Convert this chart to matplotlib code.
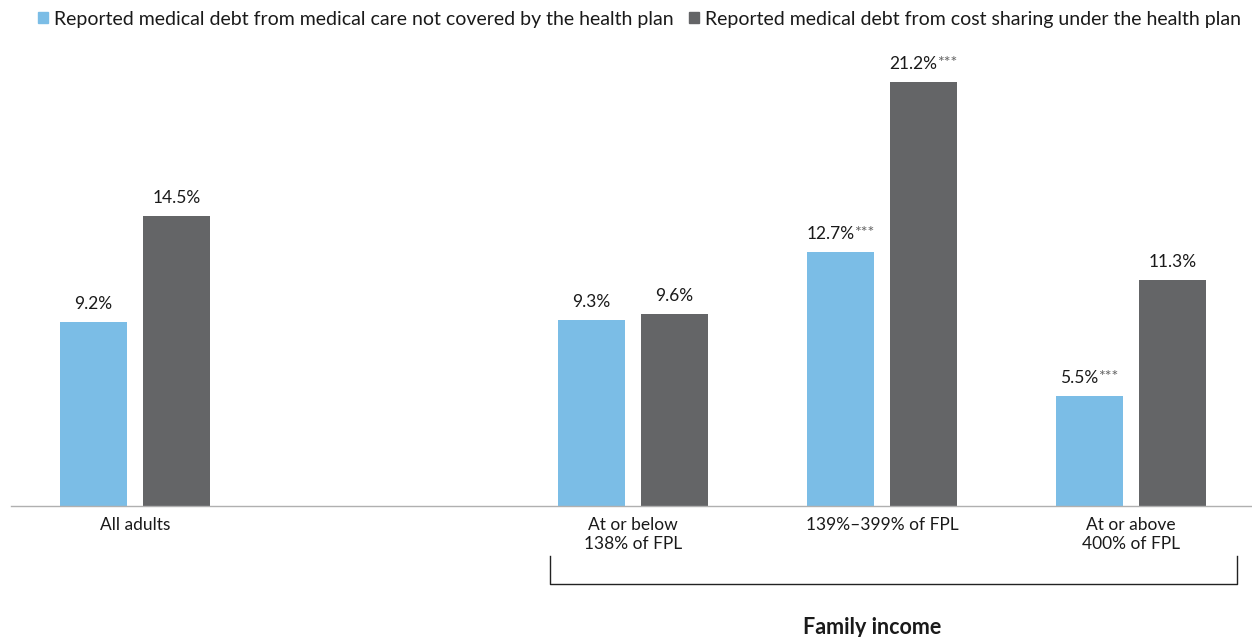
import matplotlib
matplotlib.use("Agg")
import matplotlib.pyplot as plt
from matplotlib.offsetbox import TextArea, HPacker, AnnotationBbox
from matplotlib.patches import Patch
from matplotlib.lines import Line2D

plt.rcParams['font.family'] = ['Lato', 'DejaVu Sans']

categories = ["All adults", "", "At or below\n138% of FPL", "139%\u2013399% of FPL", "At or above\n400% of FPL"]
not_covered = [9.2, None, 9.3, 12.7, 5.5]
cost_sharing = [14.5, None, 9.6, 21.2, 11.3]
not_covered_sig = ["", "", "", "***", "***"]
cost_sharing_sig = ["", "", "", "***", ""]
series_names = ["Reported medical debt from medical care not covered by the health plan",
                "Reported medical debt from cost sharing under the health plan"]

BLUE = "#7bbde6"
GRAY = "#646567"
TEXT = "#1a1a1a"

fig = plt.figure(figsize=(12.52, 6.37), dpi=100)
ax = fig.add_axes([10.5 / 1252, 1 - 506 / 637, 1245 / 1252, (506 - 60) / 637])
ax.set_xlim(-0.5, 4.5)
ax.set_ylim(0, 22.3)

width = 0.269
offset = 0.1667


def value_label(x, v, sig):
    parts = [TextArea(f"{v:.1f}%", textprops=dict(fontsize=12.5, color=TEXT))]
    if sig:
        parts.append(TextArea(sig, textprops=dict(fontsize=11.5, color="#666666")))
    box = HPacker(children=parts, align="top", pad=0, sep=0)
    ab = AnnotationBbox(box, (x, v), xybox=(0, 7), xycoords="data",
                        boxcoords="offset points", box_alignment=(0.5, 0),
                        frameon=False, pad=0)
    ax.add_artist(ab)


for i, (a, b) in enumerate(zip(not_covered, cost_sharing)):
    if a is None:
        continue
    ax.bar(i - offset, a, width=width, color=BLUE, zorder=2)
    ax.bar(i + offset, b, width=width, color=GRAY, zorder=2)
    value_label(i - offset, a, not_covered_sig[i])
    value_label(i + offset, b, cost_sharing_sig[i])

for s in ["top", "right", "left"]:
    ax.spines[s].set_visible(False)
ax.spines["bottom"].set_color("#b0b0b0")
ax.spines["bottom"].set_linewidth(1.0)
ax.set_yticks([])
ax.set_xticks(range(len(categories)))
ax.set_xticklabels(categories, fontsize=12.5, color=TEXT, linespacing=1.2)
ax.tick_params(axis="x", length=0, pad=8)

# Bracket grouping the family-income categories
trans = ax.get_xaxis_transform()
bx0, bx1 = 1.667, 4.425
yb_top = (506 - 556) / 446
yb_bot = (506 - 584) / 446
ax.add_line(Line2D([bx0, bx0, bx1, bx1], [yb_top, yb_bot, yb_bot, yb_top],
                   transform=trans, color="#222222", lw=1.0, clip_on=False))
fig.text(872 / 1252, 1 - 628 / 637, "Family income", ha="center", va="center",
         fontsize=15.5, fontweight="bold", color=TEXT)

handles = [Patch(color=BLUE), Patch(color=GRAY)]
fig.legend(handles, series_names, loc="center", bbox_to_anchor=(639.5 / 1252, 1 - 19 / 637),
           ncol=2, frameon=False, fontsize=14.0, handlelength=0.5, handleheight=0.5,
           handletextpad=0.3, columnspacing=0.8, labelcolor=TEXT)

fig.savefig("out.png", dpi=100)
